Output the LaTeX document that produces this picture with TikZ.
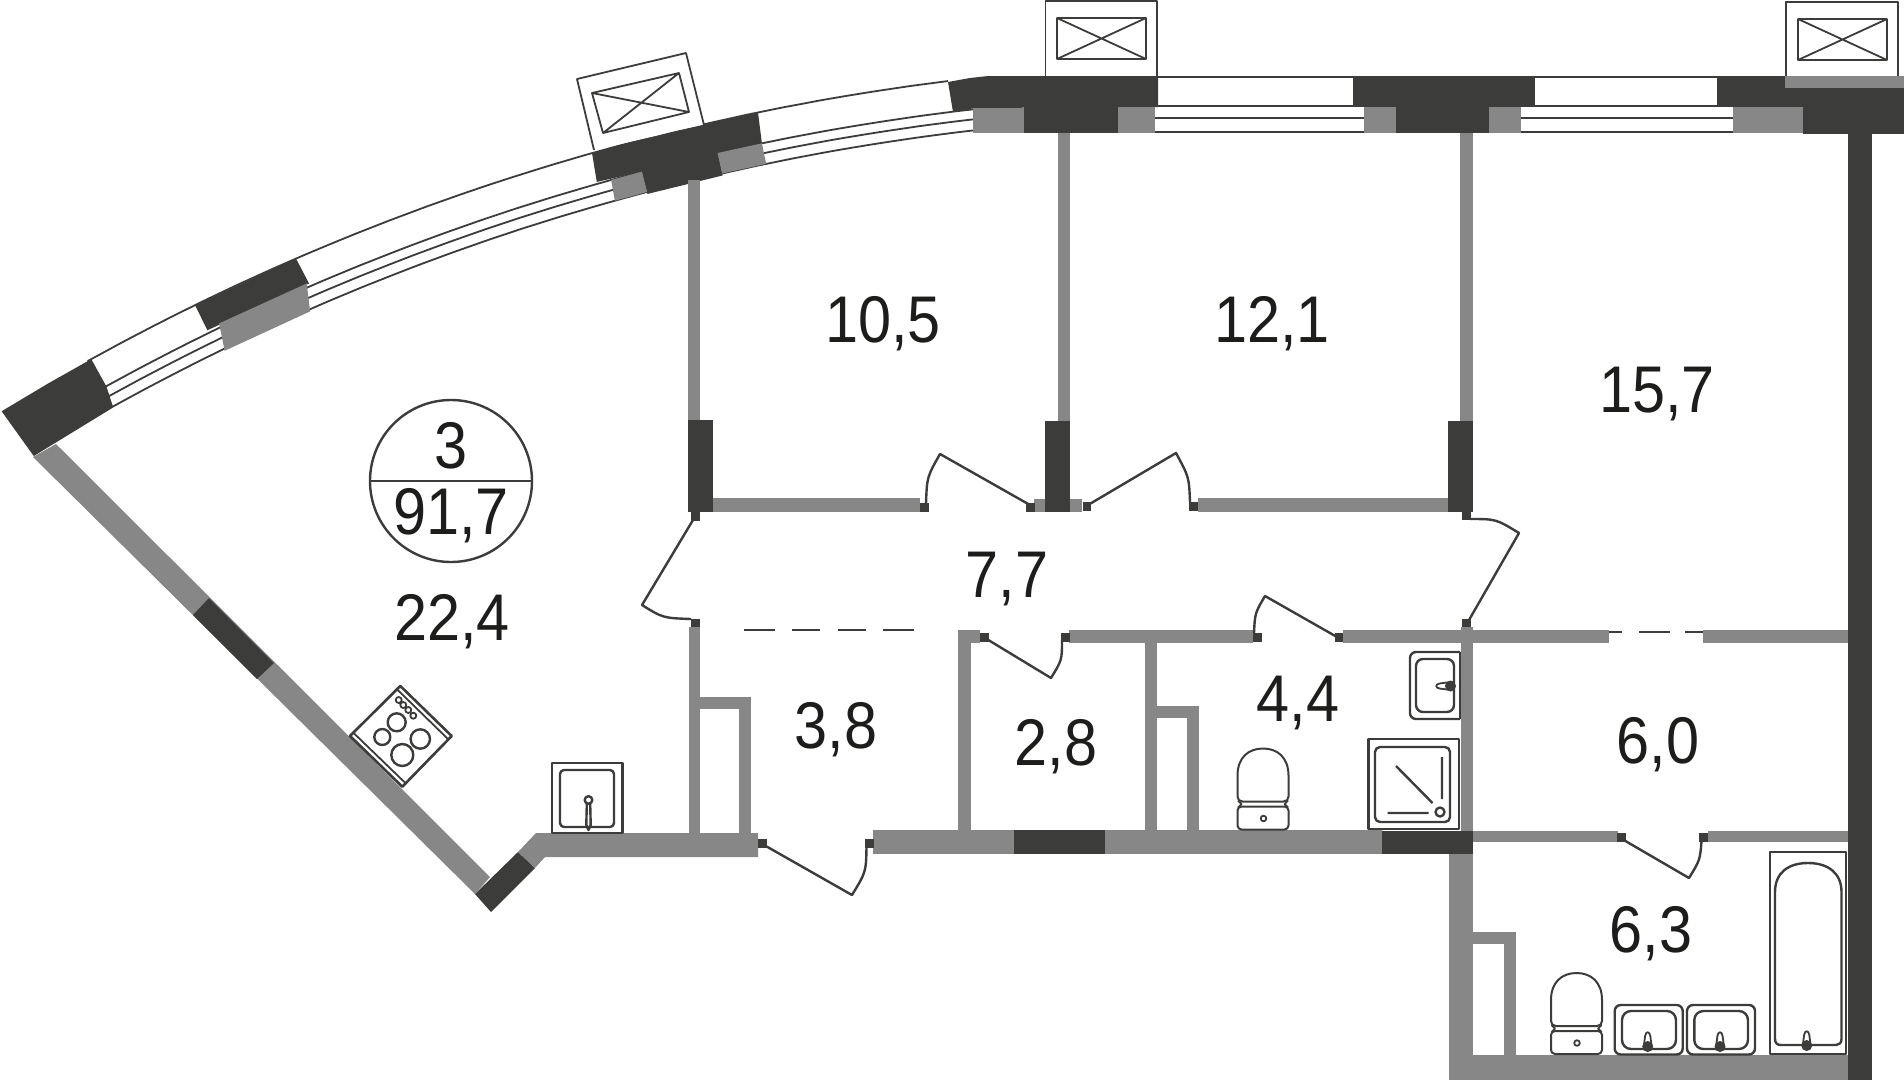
\documentclass[tikz,border=0pt]{standalone}
\usepackage{fontspec}
\newfontfamily\labfont[FakeStretch=0.9]{Liberation Sans}
\definecolor{wd}{HTML}{3C3C3B}
\definecolor{wg}{HTML}{878787}
\definecolor{tx}{HTML}{1D1D1B}
\newcommand\AP[2]{({1240-#1*sin(#2)},{2440-#1*cos(#2)})}
\newcommand\ArcLine[3]{\draw[thinl] plot[domain=#2:#3,samples=50,smooth] ({1240-#1*sin(\x)},{2440-#1*cos(\x)});}
\newcommand\SqR[2]{\fill[dk] (#1,#2) rectangle ++(8.5,8.5);}
\tikzset{
  dk/.style={fill=wd},
  gr/.style={fill=wg},
  thinl/.style={draw=wd,line width=1.8pt,line join=round},
  thickl/.style={draw=wd,line width=2.4pt,line join=round},
  lab/.style={font=\labfont\fontsize{66}{72}\selectfont,text=tx,anchor=base,inner sep=0pt},
  wcpic/.pic={
    \draw[thinl,line width=2pt] (0,27) .. controls (0,9) and (11,0) .. (25.5,0) .. controls (40,0) and (51,9) .. (51,27)
       -- (51,48) .. controls (51,51) and (49,53) .. (46,53) -- (5,53) .. controls (2,53) and (0,51) .. (0,48) -- cycle;
    \draw[thinl,line width=2pt,rounded corners=4] (0,58) rectangle (51,81);
    \draw[thinl] (0.5,52) -- (4,55.5) -- (0.5,59) (50.5,52) -- (47,55.5) -- (50.5,59);
    \draw[thinl] (26,70) circle (2.8);
  },
  tappic/.pic={
    \draw[thinl] (-4,-5) -- (-2.6,-16) .. controls (-2,-21) and (2,-21) .. (2.6,-16) -- (4,-5);
    \fill[dk] (0,-5.5) ellipse (5.5 and 5.5);
  },
  ventpic/.pic={
    \draw[thinl] (0,0) rectangle (89,41) (0,0) -- (89,41) (0,41) -- (89,0);
  }
}
\begin{document}
\begin{tikzpicture}[x=1pt,y=-1pt]
\useasboundingbox (0,0) rectangle (1904,1080);
\fill[white] (0,0) rectangle (1904,1080);

% curved facade lines
\ArcLine{2377}{7.06}{29}
\ArcLine{2346}{6.5}{29}
\ArcLine{2336}{6.5}{29}
\ArcLine{2325}{6.5}{29}

% curved vent
\draw[thinl,fill=white] (594,150) -- (577,79) -- (686,53) -- (704,125);
\draw[thinl] (592,93) -- (679,73) -- (689,112) -- (603,133) -- cycle (592,93) -- (689,112) (679,73) -- (603,133);

% curved facade blocks
\fill[dk] \AP{2377}{31.4} -- \AP{2377}{30.1} -- \AP{2377}{28.9} -- \AP{2346}{28.9} -- \AP{2324}{29} -- \AP{2322}{31.3} -- cycle;
\fill[dk] \AP{2377}{26.08} -- \AP{2377}{23.4} -- \AP{2349}{23.35} -- \AP{2349}{26.08} -- cycle;
\fill[gr] \AP{2350}{25.75} -- \AP{2350}{23.4} -- \AP{2323}{23.6} -- \AP{2323}{25.92} -- cycle;
\fill[dk] \AP{2377}{15.82} -- \AP{2377}{13.8} -- \AP{2377}{11.7} -- \AP{2346}{11.76} -- \AP{2346}{12.85} -- \AP{2323}{12.87} -- \AP{2323}{14.78} -- \AP{2346}{14.78} -- \AP{2348}{15.9} -- cycle;
\fill[gr] \AP{2346}{15.55} -- \AP{2346}{14.77} -- \AP{2325}{14.78} -- \AP{2325}{15.6} -- cycle;
\fill[gr] \AP{2346}{12.87} -- \AP{2346}{11.76} -- \AP{2325}{11.76} -- \AP{2325}{12.87} -- cycle;

% straight facade: vents
\draw[thinl,fill=white] (1045.5,76) -- (1045.5,1) -- (1157,1) -- (1157,76);
\draw[thinl,fill=white] (1786,76) -- (1786,2) -- (1898,2) -- (1898,76);
\pic at (1057,18) {ventpic};
\pic at (1798,19) {ventpic};

% straight facade: window lines
\draw[thinl] (1158,77) -- (1353,77) (1535,77) -- (1717,77);
\draw[thinl] (1158,106) -- (1353,106) (1535,106) -- (1717,106);
\draw[thinl] (1155,118) -- (1364,118) (1521,118) -- (1733,118);
\draw[thinl] (1155,132) -- (1364,132) (1521,132) -- (1733,132);

% straight facade: blocks
\fill[dk] (948,82) -- (970,78) -- (988,76) -- (1158,76) -- (1158,107) -- (975,108) -- (953,112) -- cycle;
\fill[dk] (1353,76) rectangle (1535,107);
\fill[dk] (1717,76) rectangle (1904,107);
\fill[gr] (1785,76) rectangle (1904,88);
\fill[gr] (973,108) rectangle (1024,133);
\fill[dk] (1024,107) rectangle (1118,133);
\fill[gr] (1118,107) rectangle (1155,133);
\fill[gr] (1364,107) rectangle (1396,133);
\fill[dk] (1396,107) rectangle (1489,133);
\fill[gr] (1489,107) rectangle (1521,133);
\fill[gr] (1733,107) rectangle (1803,133);
\fill[dk] (1803,107) rectangle (1904,134);

% right bearing wall
\fill[dk] (1848,134) rectangle (1872,1080);

% interior walls, upper row
\fill[gr] (688,180) rectangle (700,421);
\fill[dk] (688,420) rectangle (713,512);
\fill[gr] (1058,133) rectangle (1070,421);
\fill[gr] (1034,499) rectangle (1082,512);
\fill[dk] (1045,421) rectangle (1070,512);
\fill[gr] (1460,133) rectangle (1473,421);
\fill[gr] (713,498) rectangle (920,512);
\fill[gr] (1198,498) rectangle (1448,512);
\fill[dk] (1448,421) rectangle (1473,512);

% left bearing wall
\fill[gr] (33,457) -- (56,444) -- (490,877) -- (475,894) -- cycle;
\fill[dk] (193,615) -- (209,598) -- (274,663) -- (257,679) -- cycle;
\fill[dk] (518,852) -- (535,868) -- (491,912) -- (475,894) -- cycle;
\fill[gr] (518,852) -- (536,833) -- (758,833) -- (758,857) -- (545,857) -- (535,868) -- cycle;

% bottom wall
\fill[gr] (873,830) rectangle (1382,854);
\fill[dk] (1014,830) rectangle (1105,854);
\fill[dk] (1382,831) rectangle (1473,854);

% partitions
\fill[gr] (688.5,627) rectangle (700,833);
\fill[gr] (700,697) rectangle (751,709);
\fill[gr] (739,709) rectangle (751,833);
\fill[gr] (958,630) rectangle (980,643);
\fill[gr] (958,643) rectangle (971,830);
\fill[gr] (1069,630) rectangle (1253,643);
\fill[gr] (1145,643) rectangle (1157,830);
\fill[gr] (1157,706) rectangle (1199,718);
\fill[gr] (1187,718) rectangle (1199,830);
\fill[gr] (1343,630) rectangle (1609,643);
\fill[gr] (1703,630) rectangle (1848,643);
\fill[gr] (1461,627) rectangle (1473,831);
\fill[gr] (1473,831) rectangle (1617.5,842);
\fill[gr] (1707.5,831) rectangle (1848,842);
\fill[gr] (1448.5,854) rectangle (1473,1055);
\fill[gr] (1473,932) rectangle (1516,944);
\fill[gr] (1503.5,944) rectangle (1516,1055);
\fill[gr] (1448.5,1055) rectangle (1848,1080);

% dashed openings
\draw[thinl] (744,630) -- (775,630) (792,630) -- (820,630) (837.5,630) -- (866,630) (883,630) -- (913.5,630);
\draw[thinl] (1609,632) -- (1622,632) (1639,632) -- (1670,632) (1685,632) -- (1703,632);

% doors
\SqR{920}{503}\SqR{1026}{503}
\draw[thickl] (1030,505) -- (940,454) .. controls (927,477) .. (926,503);
\SqR{1082.5}{502}\SqR{1189}{502}
\draw[thickl] (1088,505) -- (1176,453) .. controls (1189,477) .. (1190,502);
\SqR{691}{512}\SqR{691}{618.5}
\draw[thickl] (693,520) -- (642,605) .. controls (663,618) .. (691,619);
\SqR{1462}{511}\SqR{1462}{618.5}
\draw[thickl] (1469,620) -- (1519,533) .. controls (1496,519) .. (1470,519);
\SqR{980}{633}\SqR{1061}{633}
\draw[thickl] (985,638) -- (1051,678) .. controls (1062,660) .. (1062,640);
\SqR{1253}{633}\SqR{1334.5}{633}
\draw[thickl] (1337,637) -- (1265,596) .. controls (1255,613) .. (1254,633);
\SqR{758}{839}\SqR{865}{839}
\draw[thickl] (764,845) -- (852,895) .. controls (866,872) .. (866.5,847);
\SqR{1617}{833}\SqR{1699}{833}
\draw[thickl] (1622,839) -- (1689,878) .. controls (1700,860) .. (1701.5,841);

% stove
\draw[thickl,line width=2.6pt] (400.3,686) -- (451.7,736) -- (402.3,786.7) -- (350,736) -- cycle;
\draw[thinl] (397,689.3) -- (448.3,739.3) (353.3,732.7) -- (405.7,783.3);
\draw[thickl] (396.7,722.3) circle (9) (382.3,737) circle (8) (420.3,739) circle (9.7) (402.3,755) circle (11);
\draw[thinl] (398.7,700) circle (3) (403.3,705) circle (3) (408.3,710) circle (3) (413.3,715.7) circle (3);

% kitchen sink
\draw[thickl] (552,833) rectangle (622.5,763);
\draw[thickl,rounded corners=4] (560,770) rectangle (614,827);
\draw[thickl] (588.5,800) circle (3.8);
\draw[thickl] (586.8,804) -- (586.3,825) -- (588.5,830) -- (590.7,825) -- (590.2,804);

% 4.4 sink, shower, toilet
\draw[thickl,rounded corners=6] (1460,652) -- (1410,652) -- (1410,719) -- (1460,719);
\draw[thickl,rounded corners=7] (1416,659) rectangle (1454,712);
\draw[thinl] (1460,652) -- (1460,719);
\pic[rotate=90] at (1456,686) {tappic};
\draw[thickl] (1368.5,829) rectangle (1459,739);
\draw[thickl,rounded corners=5] (1375,747) rectangle (1450,822);
\draw[thickl] (1396,766) -- (1432.5,803) (1442,757) -- (1442,799) (1387.5,813) -- (1428.5,813);
\draw[thickl] (1440,812) circle (4.5);
\pic at (1237.5,748.5) {wcpic};

% 6.3 fixtures
\pic at (1551,973) {wcpic};
\draw[thickl,rounded corners=6] (1614.7,1054.5) -- (1614.7,1005) -- (1682.7,1005) -- (1682.7,1054.5) -- cycle;
\draw[thickl,rounded corners=9] (1622,1011) rectangle (1676,1049);
\pic at (1647.7,1052) {tappic};
\draw[thickl,rounded corners=6] (1687,1054.5) -- (1687,1005) -- (1755,1005) -- (1755,1054.5) -- cycle;
\draw[thickl,rounded corners=9] (1694.3,1011) rectangle (1748,1049);
\pic at (1720,1052) {tappic};
\draw[thickl] (1770,1054) rectangle (1846,852);
\draw[thickl] (1775,892) .. controls (1775,873) and (1788,863) .. (1808,863) .. controls (1828,863) and (1841.5,873) .. (1841.5,892)
  -- (1841.5,1039) .. controls (1841.5,1043) and (1839,1045) .. (1836,1045) -- (1781,1045) .. controls (1777,1045) and (1775,1043) .. (1775,1039) -- cycle;
\pic at (1806.7,1051) {tappic};

% area badge
\draw[thickl] (451,481) circle (81);
\draw[thickl] (370,481) -- (532,481);
\node[lab] (nrooms) at (451,468) {3};
\node[lab] (atotal) at (451,534) {91,7};

% room areas
\node[lab] (a1) at (883,342) {10,5};
\node[lab] (a2) at (1272,342) {12,1};
\node[lab] (a3) at (1657,412) {15,7};
\node[lab] (a4) at (452,640) {22,4};
\node[lab] (a5) at (1007,597) {7,7};
\node[lab] (a6) at (836,748) {3,8};
\node[lab] (a7) at (1056,765) {2,8};
\node[lab] (a8) at (1298,721) {4,4};
\node[lab] (a9) at (1658,763) {6,0};
\node[lab] (a10) at (1651,952) {6,3};
\end{tikzpicture}
\end{document}
